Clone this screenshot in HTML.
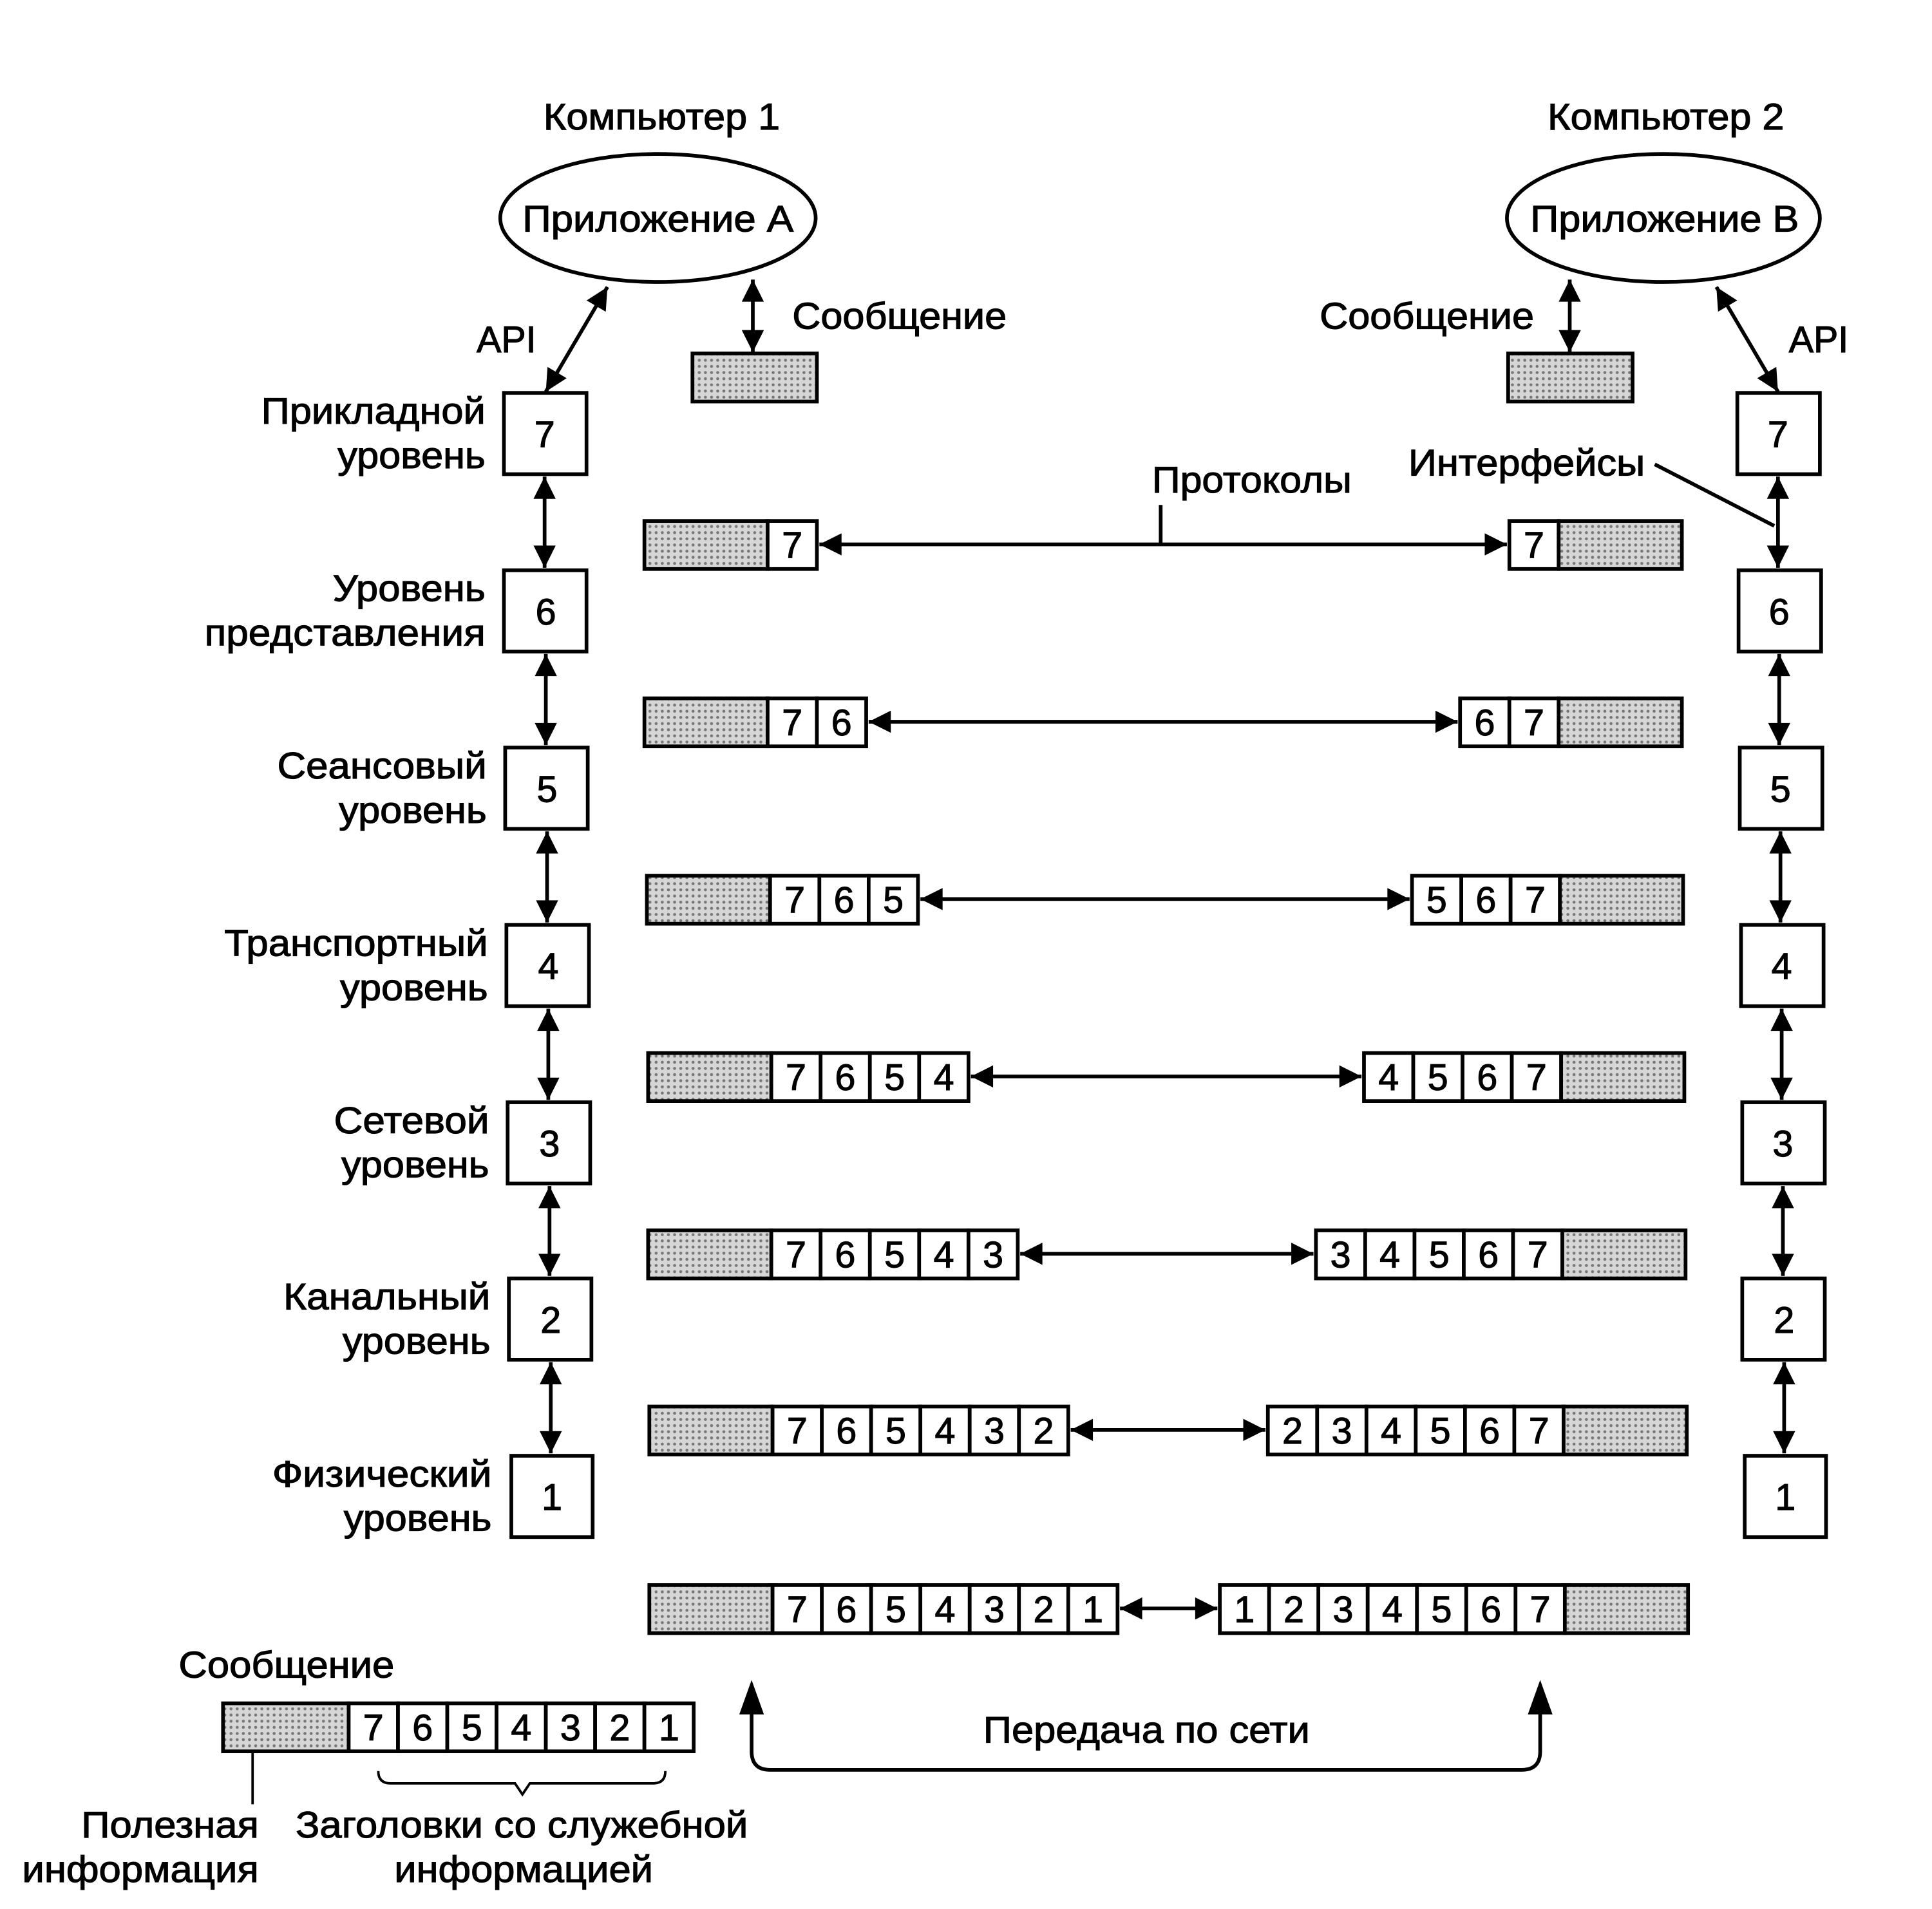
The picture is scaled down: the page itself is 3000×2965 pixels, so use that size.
<!DOCTYPE html>
<html><head><meta charset="utf-8"><style>
html,body{margin:0;padding:0;background:#fff}
svg{display:block}
text{font-family:"Liberation Sans Narrow","Liberation Sans",sans-serif;font-size:30px;fill:#000;stroke:#000;stroke-width:0.6}
.c{text-anchor:middle}.r{text-anchor:end}
</style></head><body>
<svg width="3000" height="2965" viewBox="0 0 1568 1550" preserveAspectRatio="none" xmlns="http://www.w3.org/2000/svg">
<defs>
<marker id="a" viewBox="0 0 10 10" refX="10" refY="5" markerWidth="24" markerHeight="18" markerUnits="userSpaceOnUse" orient="auto-start-reverse"><path d="M0,0 L10,5 L0,10 z" fill="#000"/></marker>
<pattern id="g" width="5" height="5" patternUnits="userSpaceOnUse"><rect width="5" height="5" fill="#d6d6d6"/><circle cx="2.5" cy="2.5" r="1.2" fill="#777"/></pattern>
</defs>
<g stroke="#000" stroke-width="3" fill="none">
<ellipse cx="534" cy="177" rx="128" ry="52"/>
<ellipse cx="1350" cy="177" rx="127" ry="52"/>
<line x1="493" y1="233" x2="443" y2="318" marker-start="url(#a)" marker-end="url(#a)"/>
<line x1="1393" y1="233" x2="1443" y2="318" marker-start="url(#a)" marker-end="url(#a)"/>
<line x1="611" y1="227" x2="611" y2="286" marker-start="url(#a)" marker-end="url(#a)"/>
<line x1="1274" y1="227" x2="1274" y2="286" marker-start="url(#a)" marker-end="url(#a)"/>
<rect x="562" y="287" width="101" height="39" fill="url(#g)"/>
<rect x="1224" y="287" width="101" height="39" fill="url(#g)"/>
<line x1="1343" y1="377" x2="1440" y2="427"/>
<line x1="942" y1="410" x2="942" y2="442"/>
<rect x="409" y="319" width="67" height="66" fill="#fff"/>
<rect x="409" y="463" width="67" height="66" fill="#fff"/>
<rect x="410" y="607" width="67" height="66" fill="#fff"/>
<rect x="411" y="751" width="67" height="66" fill="#fff"/>
<rect x="412" y="895" width="67" height="66" fill="#fff"/>
<rect x="413" y="1038" width="67" height="66" fill="#fff"/>
<rect x="415" y="1182" width="66" height="66" fill="#fff"/>
<line x1="442" y1="387" x2="442" y2="461" marker-start="url(#a)" marker-end="url(#a)"/>
<line x1="443" y1="531" x2="443" y2="605" marker-start="url(#a)" marker-end="url(#a)"/>
<line x1="444" y1="675" x2="444" y2="749" marker-start="url(#a)" marker-end="url(#a)"/>
<line x1="445" y1="819" x2="445" y2="893" marker-start="url(#a)" marker-end="url(#a)"/>
<line x1="446" y1="963" x2="446" y2="1036" marker-start="url(#a)" marker-end="url(#a)"/>
<line x1="447" y1="1106" x2="447" y2="1180" marker-start="url(#a)" marker-end="url(#a)"/>
<rect x="1410" y="319" width="67" height="66" fill="#fff"/>
<rect x="1411" y="463" width="67" height="66" fill="#fff"/>
<rect x="1412" y="607" width="67" height="66" fill="#fff"/>
<rect x="1413" y="751" width="67" height="66" fill="#fff"/>
<rect x="1414" y="895" width="67" height="66" fill="#fff"/>
<rect x="1414" y="1038" width="67" height="66" fill="#fff"/>
<rect x="1416" y="1182" width="66" height="66" fill="#fff"/>
<line x1="1443" y1="387" x2="1443" y2="461" marker-start="url(#a)" marker-end="url(#a)"/>
<line x1="1444" y1="531" x2="1444" y2="605" marker-start="url(#a)" marker-end="url(#a)"/>
<line x1="1445" y1="675" x2="1445" y2="749" marker-start="url(#a)" marker-end="url(#a)"/>
<line x1="1446" y1="819" x2="1446" y2="893" marker-start="url(#a)" marker-end="url(#a)"/>
<line x1="1447" y1="963" x2="1447" y2="1036" marker-start="url(#a)" marker-end="url(#a)"/>
<line x1="1448" y1="1106" x2="1448" y2="1180" marker-start="url(#a)" marker-end="url(#a)"/>

<rect x="523" y="423" width="100" height="39" fill="url(#g)"/>
<rect x="623" y="423" width="40" height="39" fill="#fff"/>
<rect x="1225" y="423" width="40" height="39" fill="#fff"/>
<rect x="1265" y="423" width="100" height="39" fill="url(#g)"/>
<line x1="665" y1="442" x2="1223" y2="442" marker-start="url(#a)" marker-end="url(#a)"/>
<rect x="523" y="567" width="100" height="39" fill="url(#g)"/>
<rect x="623" y="567" width="40" height="39" fill="#fff"/><rect x="663" y="567" width="40" height="39" fill="#fff"/>
<rect x="1185" y="567" width="40" height="39" fill="#fff"/><rect x="1225" y="567" width="40" height="39" fill="#fff"/>
<rect x="1265" y="567" width="100" height="39" fill="url(#g)"/>
<line x1="705" y1="586" x2="1183" y2="586" marker-start="url(#a)" marker-end="url(#a)"/>
<rect x="525" y="711" width="100" height="39" fill="url(#g)"/>
<rect x="625" y="711" width="40" height="39" fill="#fff"/><rect x="665" y="711" width="40" height="39" fill="#fff"/><rect x="705" y="711" width="40" height="39" fill="#fff"/>
<rect x="1146" y="711" width="40" height="39" fill="#fff"/><rect x="1186" y="711" width="40" height="39" fill="#fff"/><rect x="1226" y="711" width="40" height="39" fill="#fff"/>
<rect x="1266" y="711" width="100" height="39" fill="url(#g)"/>
<line x1="747" y1="730" x2="1144" y2="730" marker-start="url(#a)" marker-end="url(#a)"/>
<rect x="526" y="855" width="100" height="39" fill="url(#g)"/>
<rect x="626" y="855" width="40" height="39" fill="#fff"/><rect x="666" y="855" width="40" height="39" fill="#fff"/><rect x="706" y="855" width="40" height="39" fill="#fff"/><rect x="746" y="855" width="40" height="39" fill="#fff"/>
<rect x="1107" y="855" width="40" height="39" fill="#fff"/><rect x="1147" y="855" width="40" height="39" fill="#fff"/><rect x="1187" y="855" width="40" height="39" fill="#fff"/><rect x="1227" y="855" width="40" height="39" fill="#fff"/>
<rect x="1267" y="855" width="100" height="39" fill="url(#g)"/>
<line x1="788" y1="874" x2="1105" y2="874" marker-start="url(#a)" marker-end="url(#a)"/>
<rect x="526" y="999" width="100" height="39" fill="url(#g)"/>
<rect x="626" y="999" width="40" height="39" fill="#fff"/><rect x="666" y="999" width="40" height="39" fill="#fff"/><rect x="706" y="999" width="40" height="39" fill="#fff"/><rect x="746" y="999" width="40" height="39" fill="#fff"/><rect x="786" y="999" width="40" height="39" fill="#fff"/>
<rect x="1068" y="999" width="40" height="39" fill="#fff"/><rect x="1108" y="999" width="40" height="39" fill="#fff"/><rect x="1148" y="999" width="40" height="39" fill="#fff"/><rect x="1188" y="999" width="40" height="39" fill="#fff"/><rect x="1228" y="999" width="40" height="39" fill="#fff"/>
<rect x="1268" y="999" width="100" height="39" fill="url(#g)"/>
<line x1="828" y1="1018" x2="1066" y2="1018" marker-start="url(#a)" marker-end="url(#a)"/>
<rect x="527" y="1142" width="100" height="39" fill="url(#g)"/>
<rect x="627" y="1142" width="40" height="39" fill="#fff"/><rect x="667" y="1142" width="40" height="39" fill="#fff"/><rect x="707" y="1142" width="40" height="39" fill="#fff"/><rect x="747" y="1142" width="40" height="39" fill="#fff"/><rect x="787" y="1142" width="40" height="39" fill="#fff"/><rect x="827" y="1142" width="40" height="39" fill="#fff"/>
<rect x="1029" y="1142" width="40" height="39" fill="#fff"/><rect x="1069" y="1142" width="40" height="39" fill="#fff"/><rect x="1109" y="1142" width="40" height="39" fill="#fff"/><rect x="1149" y="1142" width="40" height="39" fill="#fff"/><rect x="1189" y="1142" width="40" height="39" fill="#fff"/><rect x="1229" y="1142" width="40" height="39" fill="#fff"/>
<rect x="1269" y="1142" width="100" height="39" fill="url(#g)"/>
<line x1="869" y1="1161" x2="1027" y2="1161" marker-start="url(#a)" marker-end="url(#a)"/>
<rect x="527" y="1287" width="100" height="39" fill="url(#g)"/>
<rect x="627" y="1287" width="40" height="39" fill="#fff"/><rect x="667" y="1287" width="40" height="39" fill="#fff"/><rect x="707" y="1287" width="40" height="39" fill="#fff"/><rect x="747" y="1287" width="40" height="39" fill="#fff"/><rect x="787" y="1287" width="40" height="39" fill="#fff"/><rect x="827" y="1287" width="40" height="39" fill="#fff"/><rect x="867" y="1287" width="40" height="39" fill="#fff"/>
<rect x="990" y="1287" width="40" height="39" fill="#fff"/><rect x="1030" y="1287" width="40" height="39" fill="#fff"/><rect x="1070" y="1287" width="40" height="39" fill="#fff"/><rect x="1110" y="1287" width="40" height="39" fill="#fff"/><rect x="1150" y="1287" width="40" height="39" fill="#fff"/><rect x="1190" y="1287" width="40" height="39" fill="#fff"/><rect x="1230" y="1287" width="40" height="39" fill="#fff"/>
<rect x="1270" y="1287" width="100" height="39" fill="url(#g)"/>
<line x1="909" y1="1306" x2="988" y2="1306" marker-start="url(#a)" marker-end="url(#a)"/>
<rect x="181" y="1383" width="102" height="39" fill="url(#g)"/>
<rect x="283" y="1383" width="40" height="39" fill="#fff"/><rect x="323" y="1383" width="40" height="39" fill="#fff"/><rect x="363" y="1383" width="40" height="39" fill="#fff"/><rect x="403" y="1383" width="40" height="39" fill="#fff"/><rect x="443" y="1383" width="40" height="39" fill="#fff"/><rect x="483" y="1383" width="40" height="39" fill="#fff"/><rect x="523" y="1383" width="40" height="39" fill="#fff"/>
<line x1="205" y1="1422" x2="205" y2="1465" stroke-width="2"/>
<path d="M307,1438 Q307,1448 317,1448 L418,1448 L424,1457 L430,1448 L530,1448 Q540,1448 540,1438" stroke-width="2"/>
<path d="M610,1388 L610,1422 Q610,1437 625,1437 L1235,1437 Q1250,1437 1250,1422 L1250,1388"/>
</g>
<path d="M610,1364 L600,1392 L620,1392 z M1250,1364 L1240,1392 L1260,1392 z" fill="#000"/>

<text x="537" y="105" class="c" textLength="192" lengthAdjust="spacingAndGlyphs">Компьютер 1</text>
<text x="1352" y="105" class="c" textLength="192" lengthAdjust="spacingAndGlyphs">Компьютер 2</text>
<text x="534" y="188" class="c" textLength="220" lengthAdjust="spacingAndGlyphs">Приложение A</text>
<text x="1351" y="188" class="c" textLength="218" lengthAdjust="spacingAndGlyphs">Приложение B</text>
<text x="411" y="286" class="c">API</text>
<text x="1476" y="286" class="c">API</text>
<text x="643" y="267" textLength="174" lengthAdjust="spacingAndGlyphs">Сообщение</text>
<text x="1071" y="267" textLength="174" lengthAdjust="spacingAndGlyphs">Сообщение</text>
<text x="935" y="400" textLength="162" lengthAdjust="spacingAndGlyphs">Протоколы</text>
<text x="1143" y="386" textLength="192" lengthAdjust="spacingAndGlyphs">Интерфейсы</text>

<text x="394" y="344" class="r" textLength="182" lengthAdjust="spacingAndGlyphs">Прикладной</text>
<text x="394" y="380" class="r" textLength="120" lengthAdjust="spacingAndGlyphs">уровень</text>
<text x="394" y="488" class="r" textLength="124" lengthAdjust="spacingAndGlyphs">Уровень</text>
<text x="394" y="524" class="r" textLength="228" lengthAdjust="spacingAndGlyphs">представления</text>
<text x="395" y="632" class="r" textLength="170" lengthAdjust="spacingAndGlyphs">Сеансовый</text>
<text x="395" y="668" class="r" textLength="120" lengthAdjust="spacingAndGlyphs">уровень</text>
<text x="396" y="776" class="r" textLength="214" lengthAdjust="spacingAndGlyphs">Транспортный</text>
<text x="396" y="812" class="r" textLength="120" lengthAdjust="spacingAndGlyphs">уровень</text>
<text x="397" y="920" class="r" textLength="126" lengthAdjust="spacingAndGlyphs">Сетевой</text>
<text x="397" y="956" class="r" textLength="120" lengthAdjust="spacingAndGlyphs">уровень</text>
<text x="398" y="1063" class="r" textLength="168" lengthAdjust="spacingAndGlyphs">Канальный</text>
<text x="398" y="1099" class="r" textLength="120" lengthAdjust="spacingAndGlyphs">уровень</text>
<text x="399" y="1207" class="r" textLength="178" lengthAdjust="spacingAndGlyphs">Физический</text>
<text x="399" y="1243" class="r" textLength="120" lengthAdjust="spacingAndGlyphs">уровень</text>

<text x="442" y="363" class="c">7</text><text x="443" y="507" class="c">6</text><text x="444" y="651" class="c">5</text><text x="445" y="795" class="c">4</text><text x="446" y="939" class="c">3</text><text x="447" y="1082" class="c">2</text><text x="448" y="1226" class="c">1</text>
<text x="1443" y="363" class="c">7</text><text x="1444" y="507" class="c">6</text><text x="1445" y="651" class="c">5</text><text x="1446" y="795" class="c">4</text><text x="1447" y="939" class="c">3</text><text x="1448" y="1082" class="c">2</text><text x="1449" y="1226" class="c">1</text>

<text x="643" y="453" class="c">7</text>
<text x="1245" y="453" class="c">7</text>
<text x="643" y="597" class="c">7</text><text x="683" y="597" class="c">6</text>
<text x="1205" y="597" class="c">6</text><text x="1245" y="597" class="c">7</text>
<text x="645" y="741" class="c">7</text><text x="685" y="741" class="c">6</text><text x="725" y="741" class="c">5</text>
<text x="1166" y="741" class="c">5</text><text x="1206" y="741" class="c">6</text><text x="1246" y="741" class="c">7</text>
<text x="646" y="885" class="c">7</text><text x="686" y="885" class="c">6</text><text x="726" y="885" class="c">5</text><text x="766" y="885" class="c">4</text>
<text x="1127" y="885" class="c">4</text><text x="1167" y="885" class="c">5</text><text x="1207" y="885" class="c">6</text><text x="1247" y="885" class="c">7</text>
<text x="646" y="1029" class="c">7</text><text x="686" y="1029" class="c">6</text><text x="726" y="1029" class="c">5</text><text x="766" y="1029" class="c">4</text><text x="806" y="1029" class="c">3</text>
<text x="1088" y="1029" class="c">3</text><text x="1128" y="1029" class="c">4</text><text x="1168" y="1029" class="c">5</text><text x="1208" y="1029" class="c">6</text><text x="1248" y="1029" class="c">7</text>
<text x="647" y="1172" class="c">7</text><text x="687" y="1172" class="c">6</text><text x="727" y="1172" class="c">5</text><text x="767" y="1172" class="c">4</text><text x="807" y="1172" class="c">3</text><text x="847" y="1172" class="c">2</text>
<text x="1049" y="1172" class="c">2</text><text x="1089" y="1172" class="c">3</text><text x="1129" y="1172" class="c">4</text><text x="1169" y="1172" class="c">5</text><text x="1209" y="1172" class="c">6</text><text x="1249" y="1172" class="c">7</text>
<text x="647" y="1317" class="c">7</text><text x="687" y="1317" class="c">6</text><text x="727" y="1317" class="c">5</text><text x="767" y="1317" class="c">4</text><text x="807" y="1317" class="c">3</text><text x="847" y="1317" class="c">2</text><text x="887" y="1317" class="c">1</text>
<text x="1010" y="1317" class="c">1</text><text x="1050" y="1317" class="c">2</text><text x="1090" y="1317" class="c">3</text><text x="1130" y="1317" class="c">4</text><text x="1170" y="1317" class="c">5</text><text x="1210" y="1317" class="c">6</text><text x="1250" y="1317" class="c">7</text>
<text x="303" y="1413" class="c">7</text><text x="343" y="1413" class="c">6</text><text x="383" y="1413" class="c">5</text><text x="423" y="1413" class="c">4</text><text x="463" y="1413" class="c">3</text><text x="503" y="1413" class="c">2</text><text x="543" y="1413" class="c">1</text>

<text x="145" y="1362" textLength="175" lengthAdjust="spacingAndGlyphs">Сообщение</text>
<text x="798" y="1415" textLength="265" lengthAdjust="spacingAndGlyphs">Передача по сети</text>
<text x="210" y="1492" class="r" textLength="144" lengthAdjust="spacingAndGlyphs">Полезная</text>
<text x="210" y="1528" class="r" textLength="192" lengthAdjust="spacingAndGlyphs">информация</text>
<text x="240" y="1492" textLength="367" lengthAdjust="spacingAndGlyphs">Заголовки со служебной</text>
<text x="425" y="1528" class="c" textLength="210" lengthAdjust="spacingAndGlyphs">информацией</text>
</svg>
</body></html>
